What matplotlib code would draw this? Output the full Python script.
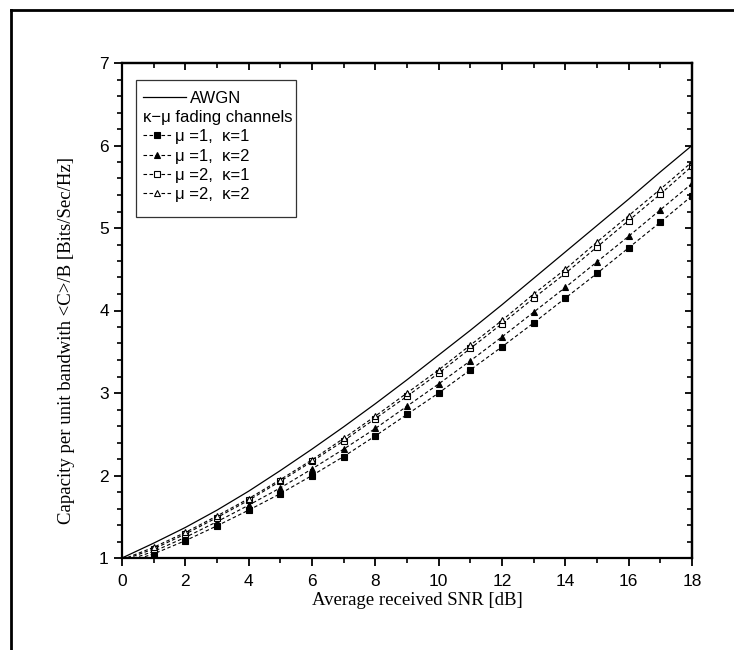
import matplotlib
matplotlib.use('Agg')
import numpy as np
import matplotlib.pyplot as plt
from matplotlib.lines import Line2D
from matplotlib.ticker import MultipleLocator

# ---- data ----
snr_db = [0, 1, 2, 3, 4, 5, 6, 7, 8, 9, 10, 11, 12, 13, 14, 15, 16, 17, 18]
awgn = [1.00, 1.18, 1.37, 1.58, 1.81, 2.06, 2.32, 2.59, 2.87, 3.16, 3.46,
        3.76, 4.07, 4.39, 4.71, 5.03, 5.35, 5.68, 6.00]
mu1_k1 = [0.93, 1.05, 1.21, 1.39, 1.58, 1.78, 2.00, 2.23, 2.48, 2.74, 3.00,
          3.28, 3.56, 3.85, 4.15, 4.45, 4.76, 5.07, 5.39]
mu1_k2 = [0.95, 1.08, 1.25, 1.44, 1.64, 1.85, 2.08, 2.32, 2.57, 2.84, 3.11,
          3.39, 3.68, 3.98, 4.28, 4.59, 4.90, 5.22, 5.54]
mu2_k1 = [0.97, 1.11, 1.29, 1.49, 1.70, 1.93, 2.17, 2.42, 2.69, 2.96, 3.24,
          3.54, 3.84, 4.15, 4.45, 4.77, 5.09, 5.41, 5.75]
mu2_k2 = [0.98, 1.13, 1.31, 1.51, 1.72, 1.95, 2.19, 2.45, 2.72, 3.00, 3.28,
          3.58, 3.88, 4.20, 4.50, 4.83, 5.15, 5.47, 5.80]
series_labels = ['μ =1,  κ=1', 'μ =1,  κ=2', 'μ =2,  κ=1', 'μ =2,  κ=2']
legend_header = 'κ−μ fading channels'
xlabel = 'Average received SNR [dB]'
ylabel = 'Capacity per unit bandwith <C>/B [Bits/Sec/Hz]'

SANS = ['Liberation Sans', 'DejaVu Sans']
SERIF = ['Liberation Serif', 'DejaVu Serif']

W, H = 734, 650
fig = plt.figure(figsize=(W / 100, H / 100), dpi=100)
fig.patch.set_facecolor('white')

# figure frame (left and top edges visible)
fx, fy = 11 / W, 1 - 10 / H
fig.add_artist(Line2D([fx, fx], [0, fy], transform=fig.transFigure, color='k', lw=2.0))
fig.add_artist(Line2D([fx, 1.0], [fy, fy], transform=fig.transFigure, color='k', lw=2.0))

left, right, top, bottom = 122, 692, 63, 558
ax = fig.add_axes([left / W, 1 - bottom / H, (right - left) / W, (bottom - top) / H])

l_awgn, = ax.plot(snr_db, awgn, color='k', lw=0.9)
mk = dict(ms=5.0, mew=0.8, mec='k')
dash = (0, (3.2, 2.2))
l1, = ax.plot(snr_db, mu1_k1, color='k', lw=0.8, ls=dash, marker='s', mfc='k', **mk)
l2, = ax.plot(snr_db, mu1_k2, color='k', lw=0.8, ls=dash, marker='^', mfc='k', **mk)
l3, = ax.plot(snr_db, mu2_k1, color='k', lw=0.8, ls=dash, marker='s', mfc='white', **mk)
l4, = ax.plot(snr_db, mu2_k2, color='k', lw=0.8, ls=dash, marker='^', mfc='white', **mk)

ax.set_xlim(0, 18)
ax.set_ylim(1, 7)
ax.xaxis.set_major_locator(MultipleLocator(2))
ax.xaxis.set_minor_locator(MultipleLocator(1))
ax.yaxis.set_major_locator(MultipleLocator(1))
ax.yaxis.set_minor_locator(MultipleLocator(0.2))
for s in ax.spines.values():
    s.set_linewidth(1.6)
ax.tick_params(which='major', direction='out', length=5.5, width=1.3, labelsize=12.5)
ax.tick_params(axis='x', which='major', pad=6)
ax.tick_params(axis='y', which='major', pad=4)
ax.tick_params(which='minor', direction='out', length=3.5, width=1.2)
for lab in ax.get_xticklabels() + ax.get_yticklabels():
    lab.set_family(SANS)

secx = ax.secondary_xaxis('top')
secx.xaxis.set_major_locator(MultipleLocator(2))
secx.xaxis.set_minor_locator(MultipleLocator(1))
secx.tick_params(which='major', direction='in', length=5, width=1.3, labeltop=False)
secx.tick_params(which='minor', direction='in', length=3.5, width=1.2)
secx.spines['top'].set_linewidth(1.6)
secy = ax.secondary_yaxis('right')
secy.yaxis.set_major_locator(MultipleLocator(1))
secy.yaxis.set_minor_locator(MultipleLocator(0.2))
secy.tick_params(which='major', direction='in', length=5, width=1.3, labelright=False)
secy.tick_params(which='minor', direction='in', length=3.5, width=1.2)
secy.spines['right'].set_linewidth(1.6)

ax.set_xlabel(xlabel, family=SERIF, fontsize=13.5)
ax.set_ylabel(ylabel, family=SERIF, fontsize=13.5)
ax.xaxis.set_label_coords(0.518, -0.068)
ax.yaxis.set_label_coords(-0.083, 0.44)

# ---- legend ----
header_handle = Line2D([], [], color='none')
handles = [l_awgn, header_handle, l1, l2, l3, l4]
labels = ['AWGN', legend_header] + series_labels
fs_leg = 12
pad_top, pad_bot, shrink_r = 4.0, 8.5, 4.0   # extra frame padding in pixels
leg = ax.legend(handles, labels,
                loc='upper left',
                bbox_to_anchor=((136 - left) / (right - left),
                                (bottom - 80 - pad_top) / (bottom - top)),
                borderaxespad=0, numpoints=1, handlelength=1.65, handletextpad=0.25,
                labelspacing=0.25, borderpad=0.42, fancybox=False,
                edgecolor='k', facecolor='none', framealpha=None,
                prop={'family': SANS, 'size': fs_leg})
leg.get_frame().set_linewidth(0.9)

# asymmetric frame padding (as in the reference legend box)
patch = leg.legendPatch
_orig_set_bounds = patch.set_bounds


def _set_bounds(*args):
    l, b, w, h = args[0] if len(args) == 1 else args
    _orig_set_bounds(l, b - pad_bot, w - shrink_r, h + pad_top + pad_bot)


patch.set_bounds = _set_bounds

# header row: no handle, text starts where the handles start;
# AWGN row: longer solid handle
column = leg._legend_handle_box.get_children()[0]
rows = column.get_children()
hdr_row = rows[1]
hdr_row.sep = 0
hdr_row.get_children()[0].width = 0
awgn_box = rows[0].get_children()[0]
old_w = awgn_box.width
new_w = 31.0
for art in awgn_box.get_children():
    if isinstance(art, Line2D):
        xd = np.asarray(art.get_xdata(), dtype=float)
        art.set_xdata(xd * new_w / old_w)
awgn_box.width = new_w

fig.savefig('out.png', dpi=100, facecolor='white')
